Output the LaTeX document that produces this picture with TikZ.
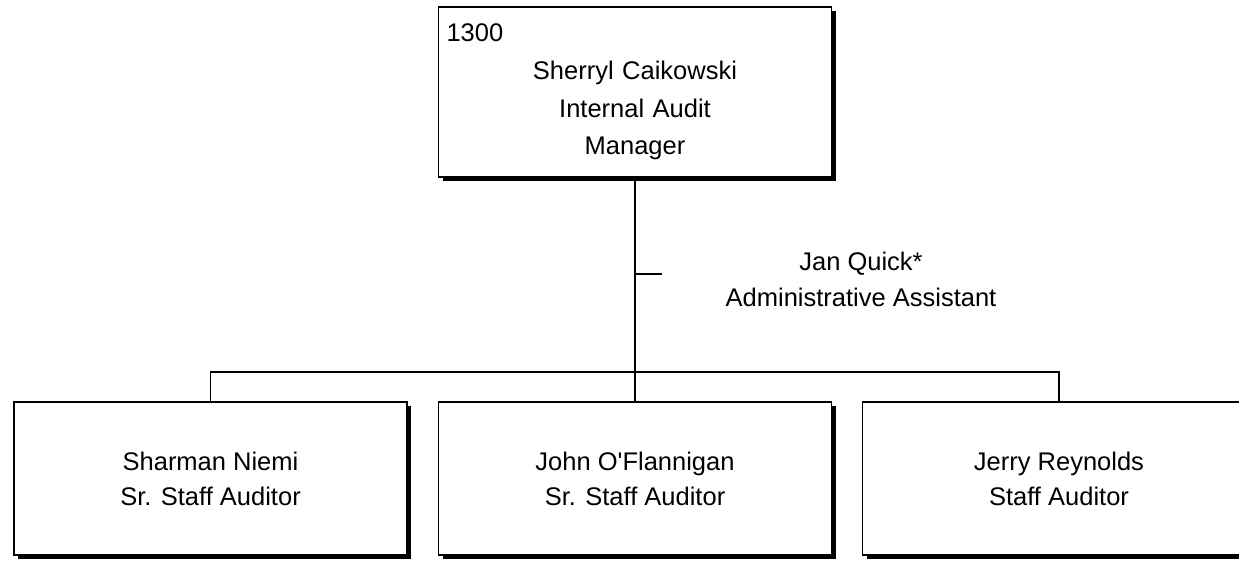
\documentclass[tikz,border=0pt]{standalone}
\usepackage{fontspec}
\setmainfont{Liberation Sans}
\usetikzlibrary{shadows}

\begin{document}
\begin{tikzpicture}[x=1pt, y=-1pt,
  box/.style = {draw, line width=1.4pt, fill=white, rectangle,
    drop shadow={shadow xshift=4pt, shadow yshift=-4pt, fill=black, opacity=1},
    font=\fontsize{25.5}{35}\selectfont, align=center},
  topbox/.style = {box, minimum width=393pt, minimum height=170pt,
    text width=377pt, inner xsep=8pt, font=\fontsize{25.5}{37.6}\selectfont},
  subbox/.style = {box, minimum width=393pt, minimum height=153pt},
  wire/.style = {line width=1.7pt}]
\useasboundingbox (0,0) rectangle (1239,560);

% manager
\node [topbox] (mgr) at (635,92) {1300\hfill\null\\ Sherryl Caikowski\\ Internal Audit\\ Manager};

% staff
\node [subbox] (niemi) at (210.5,478.5) {Sharman Niemi\\ Sr. Staff Auditor};
\node [subbox] (oflan) at (635,478.5) {John O\textquotesingle Flannigan\\ Sr. Staff Auditor};
\node [subbox] (reyn) at (1059,478.5) {Jerry Reynolds\\ Staff Auditor};

% assistant
\coordinate (tick) at (662,274);
\node [font=\fontsize{25.5}{36}\selectfont, align=center] (quick) at (861,279) {Jan Quick*\\ Administrative Assistant};

% lines
\coordinate (bar) at (635,372);
\draw [wire] (mgr.south) -- (oflan.north);
\draw [wire] (mgr.south |- tick) -- (tick);
\draw [wire] (niemi.north) |- (bar) -| (reyn.north);
\end{tikzpicture}
\end{document}
